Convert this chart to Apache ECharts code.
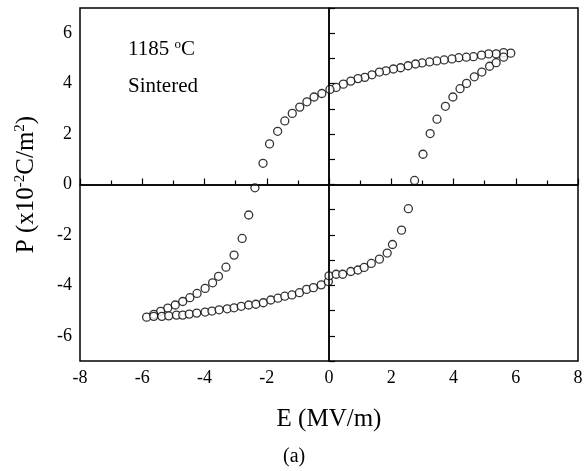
<!DOCTYPE html>
<html>
<head>
<meta charset="utf-8">
<script src="https://cdn.jsdelivr.net/npm/echarts@6/dist/echarts.min.js"></script>
<style>html,body{margin:0;padding:0;background:#fff}#c{width:586px;height:471px}</style>
</head>
<body>
<div id="c"></div>
<script>
// Descending branch (from +Emax to -Emax)
var descE = [5.84,5.61,5.37,5.13,4.90,4.64,4.41,4.17,3.95,3.70,3.46,3.23,2.99,2.78,2.54,2.30,2.07,1.83,1.62,1.38,1.15,0.93,0.70,0.46,0.23,0.03,-0.23,-0.48,-0.71,-0.94,-1.18,-1.42,-1.65,-1.91,-2.12,-2.38,-2.58,-2.79,-3.05,-3.31,-3.55,-3.74,-3.98,-4.24,-4.47,-4.70,-4.94,-5.18,-5.41,-5.63,-5.86];
var descP = [5.21,5.23,5.18,5.18,5.13,5.07,5.05,5.03,4.98,4.94,4.90,4.86,4.82,4.78,4.71,4.63,4.58,4.51,4.46,4.35,4.25,4.20,4.10,3.98,3.85,3.77,3.61,3.47,3.28,3.07,2.82,2.52,2.11,1.61,0.84,-0.13,-1.21,-2.14,-2.80,-3.28,-3.64,-3.90,-4.12,-4.32,-4.49,-4.64,-4.78,-4.90,-5.03,-5.15,-5.26];
// Ascending branch (from -Emax to +Emax)
var ascE = [-5.63,-5.37,-5.15,-4.90,-4.70,-4.49,-4.25,-3.98,-3.76,-3.53,-3.27,-3.05,-2.82,-2.58,-2.35,-2.11,-1.87,-1.64,-1.42,-1.19,-0.95,-0.72,-0.50,-0.25,-0.02,0.00,0.23,0.44,0.70,0.93,1.13,1.36,1.62,1.87,2.04,2.33,2.55,2.75,3.02,3.25,3.47,3.74,3.98,4.21,4.42,4.67,4.91,5.16,5.37,5.61];
var ascP = [-5.23,-5.23,-5.21,-5.18,-5.18,-5.14,-5.10,-5.06,-5.02,-4.97,-4.93,-4.89,-4.83,-4.78,-4.75,-4.69,-4.58,-4.51,-4.43,-4.38,-4.29,-4.16,-4.09,-3.98,-3.85,-3.62,-3.56,-3.56,-3.45,-3.39,-3.29,-3.13,-2.96,-2.72,-2.38,-1.81,-0.96,0.16,1.20,2.02,2.59,3.10,3.47,3.80,4.01,4.27,4.46,4.69,4.83,5.05];
var xTicks = [-8,-6,-4,-2,0,2,4,6,8];
var yTicks = [-6,-4,-2,0,2,4,6];

function zip(a,b){var r=[];for(var i=0;i<a.length;i++)r.push([a[i],b[i]]);return r;}
var font = 'Liberation Serif';
var chart = echarts.init(document.getElementById('c'), null, {renderer:'canvas'});
var sym = {symbol:'circle', symbolSize:8, itemStyle:{color:'#fff', borderColor:'#000', borderWidth:1.3}};
chart.setOption({
  animation:false,
  backgroundColor:'#fff',
  grid:{left:80,right:8,top:8,bottom:110,show:true,borderColor:'#000',borderWidth:1.5,backgroundColor:'transparent'},
  xAxis:{type:'value',min:-8,max:8,interval:2,
    axisLine:{lineStyle:{color:'#000',width:1.5}},
    axisTick:{inside:true,length:6,lineStyle:{color:'#000',width:1.2}},
    minorTick:{show:true,splitNumber:2,length:4,lineStyle:{color:'#000',width:1.2}},
    splitLine:{show:false},
    axisLabel:{fontFamily:font,fontSize:18,color:'#000',margin:8,
      formatter:function(v){return xTicks.indexOf(v)>=0?String(v):'';}},
    name:'E (MV/m)',nameLocation:'middle',nameGap:46,
    nameTextStyle:{fontFamily:font,fontSize:25,color:'#000'}},
  yAxis:{type:'value',min:-7,max:7,interval:1,
    axisLine:{lineStyle:{color:'#000',width:1.5}},
    axisTick:{inside:true,length:6,lineStyle:{color:'#000',width:1.2}},
    splitLine:{show:false},
    axisLabel:{fontFamily:font,fontSize:18,color:'#000',margin:8,
      formatter:function(v){return yTicks.indexOf(v)>=0?String(v):'';}},
    name:'{n|P (x10}{s|-2}{n|C/m}{s|2}{n|)}',nameLocation:'middle',nameGap:41,nameRotate:90,
    nameTextStyle:{rich:{
      n:{fontFamily:font,fontSize:25,color:'#000'},
      s:{fontFamily:font,fontSize:15,color:'#000',padding:[0,0,11,0]}}}},
  graphic:[
    {type:'text',left:128,top:38,style:{text:'{n|1185 }{s|o}{n|C}',
      rich:{n:{fontFamily:font,fontSize:21,fill:'#000'},s:{fontFamily:font,fontSize:13,fill:'#000',padding:[0,0,10,0]}}}},
    {type:'text',left:128,top:76,style:{text:'Sintered',fontFamily:font,fontSize:21,fill:'#000'}},
    {type:'text',left:283,top:447,style:{text:'(a)',fontFamily:font,fontSize:20,fill:'#000'}}
  ],
  series:[
    Object.assign({type:'scatter',data:zip(descE,descP),z:3,
      markLine:{silent:true,symbol:'none',label:{show:false},lineStyle:{color:'#000',width:1.5,type:'solid'},
        data:[{xAxis:0},{yAxis:0}]}},sym),
    Object.assign({type:'scatter',data:zip(ascE,ascP),z:3},sym)
  ]
});
</script>
</body>
</html>
